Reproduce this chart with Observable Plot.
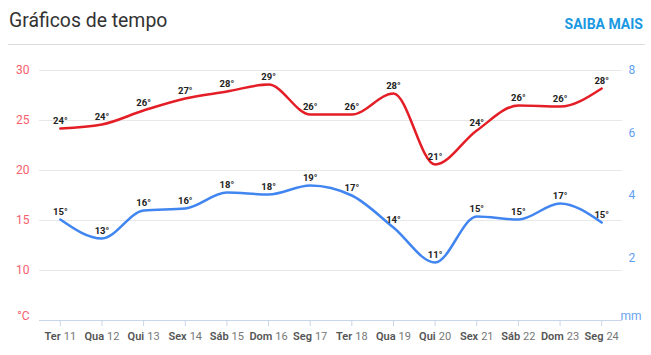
<!DOCTYPE html>
<html>
<head>
<meta charset="utf-8">
<script src="https://cdn.jsdelivr.net/npm/d3@7"></script>
<script src="https://cdn.jsdelivr.net/npm/@observablehq/plot@0.6"></script>
<style>
  html, body { margin: 0; padding: 0; background: #fff; }
  body { width: 651px; height: 355px; overflow: hidden; font-family: Roboto, sans-serif; }
  #header { position: relative; height: 50px; }
  #title { position: absolute; left: 9px; top: 11px; font-size: 19.4px; line-height: 20px; color: #333; }
  #more { position: absolute; right: 8px; top: 17px; font-size: 14px; line-height: 14px; font-weight: bold; color: #1a98e2; }
  #rule { position: absolute; left: 8px; top: 44px; width: 637px; height: 1px; background: #dcdcdc; }
  #chart svg { display: block; }
</style>
</head>
<body>
<div id="header">
  <div id="title">Gráficos de tempo</div>
  <div id="more">SAIBA MAIS</div>
  <div id="rule"></div>
</div>
<div id="chart"></div>
<script>
const days = ["Ter 11","Qua 12","Qui 13","Sex 14","Sáb 15","Dom 16","Seg 17","Ter 18","Qua 19","Qui 20","Sex 21","Sáb 22","Dom 23","Seg 24"];
const maxTemps = [24.2,24.6,26.0,27.2,27.9,28.6,25.6,25.6,27.7,20.6,24.0,26.5,26.4,28.2];
const maxLabels = [24,24,26,27,28,29,26,26,28,21,24,26,26,28];
const minTemps = [15.1,13.2,16.0,16.2,17.8,17.6,18.5,17.5,14.3,10.8,15.4,15.1,16.7,14.8];
const minLabels = [15,13,16,16,18,18,19,17,14,11,15,15,17,15];
const tempTicks = [10,15,20,25,30];
const mmTicks = [2,4,6,8];
const tempMin = 5, tempMax = 30, mmMax = 8;

const rows = days.map((d, i) => ({day: d, max: maxTemps[i], maxLabel: maxLabels[i], min: minTemps[i], minLabel: minLabels[i]}));
const mmToTemp = v => tempMin + v * (tempMax - tempMin) / mmMax;

const chart = Plot.plot({
  width: 651,
  height: 305,
  marginLeft: 39,
  marginRight: 29,
  marginTop: 20,
  marginBottom: 35,
  style: {fontFamily: "Roboto, sans-serif", background: "transparent", overflow: "visible"},
  x: {type: "point", domain: days, padding: 0.5, align: 0.5, round: false},
  y: {domain: [tempMin, tempMax]},
  marks: [
    Plot.gridY(tempTicks, {stroke: "#e8e8e8", strokeOpacity: 1}),
    Plot.ruleY([tempMin], {stroke: "#c9d5e8"}),
    Plot.axisX({tickSize: 6, tickPadding: 6, stroke: "#c9d5e8", strokeOpacity: 1, fill: "#666", fontSize: 11, label: null}),
    Plot.axisY(tempTicks, {tickSize: 0, tickPadding: 10, fill: "#f4606c", fontSize: 12, label: null}),
    Plot.text(["°C"], {y: () => tempMin, text: d => d, frameAnchor: "left", textAnchor: "end", dx: -10, dy: -4, fill: "#f4606c", fontSize: 12}),
    Plot.text(mmTicks, {y: d => mmToTemp(d), text: d => String(d), frameAnchor: "right", textAnchor: "start", dx: 6, fill: "#5fa0f5", fontSize: 12}),
    Plot.text(["mm"], {y: () => tempMin, text: d => d, frameAnchor: "right", textAnchor: "start", dx: -2, dy: -4, fill: "#6aa3f2", fontSize: 12}),
    Plot.line(rows, {x: "day", y: "max", stroke: "#e31e26", strokeWidth: 2.5, curve: "monotone-x"}),
    Plot.line(rows, {x: "day", y: "min", stroke: "#4185f0", strokeWidth: 2.5, curve: "monotone-x"}),
    Plot.text(rows, {x: "day", y: "max", text: d => d.maxLabel + "°", dy: -8, fontWeight: "bold", fontSize: 9.5, fill: "#222"}),
    Plot.text(rows, {x: "day", y: "min", text: d => d.minLabel + "°", dy: -8, fontWeight: "bold", fontSize: 9.5, fill: "#222"})
  ]
});

chart.querySelectorAll('g[aria-label="x-axis tick label"] text').forEach(t => {
  const parts = t.textContent.split(" ");
  t.textContent = "";
  const a = document.createElementNS("http://www.w3.org/2000/svg", "tspan");
  a.setAttribute("font-weight", "600");
  a.setAttribute("fill", "#555");
  a.textContent = parts[0];
  const b = document.createElementNS("http://www.w3.org/2000/svg", "tspan");
  b.setAttribute("fill", "#777");
  b.setAttribute("dx", "3");
  b.textContent = parts[1];
  t.appendChild(a);
  t.appendChild(b);
});

document.getElementById("chart").appendChild(chart);
</script>
</body>
</html>
